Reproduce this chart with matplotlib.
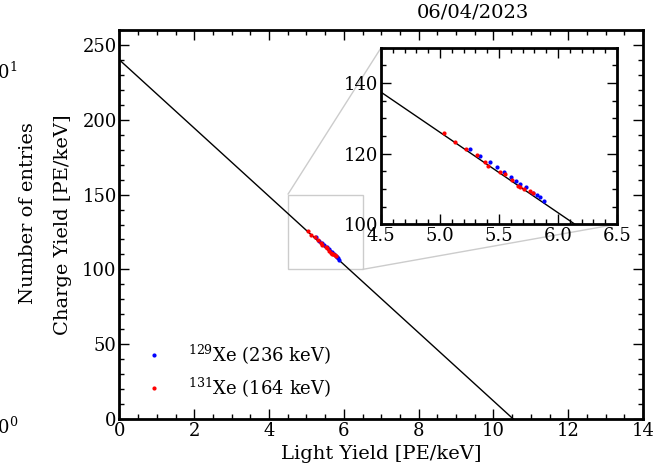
import numpy as np
import matplotlib
matplotlib.use('Agg')
import matplotlib.pyplot as plt
from matplotlib.ticker import MultipleLocator
from mpl_toolkits.axes_grid1.inset_locator import mark_inset

plt.rcParams['font.family'] = 'DejaVu Serif'
plt.rcParams['mathtext.fontset'] = 'dejavuserif'

# 129Xe (236 keV)
ly_129 = [5.25, 5.34, 5.42, 5.48, 5.54, 5.60, 5.64, 5.68, 5.73, 5.79, 5.82, 5.85, 5.88]
cy_129 = [121.4, 119.2, 117.6, 116.3, 114.9, 113.3, 112.2, 111.4, 110.5, 108.7, 108.2, 107.6, 106.5]
# 131Xe (164 keV)
ly_131 = [5.03, 5.13, 5.22, 5.31, 5.38, 5.41, 5.51, 5.55, 5.61, 5.66, 5.68, 5.71, 5.76, 5.79]
cy_131 = [125.9, 123.3, 121.4, 119.5, 117.7, 116.6, 114.8, 114.1, 112.5, 110.9, 110.6, 110.0, 109.3, 108.9]

# anticorrelation line: charge intercept / light intercept
cy0 = 240.0
ly0 = 10.53

fig = plt.figure(figsize=(6.55, 4.69), dpi=100)
ax = fig.add_axes([0.1824, 0.1066, 0.7993, 0.8294])

ax.plot([0, ly0], [cy0, 0], color='black', lw=1)
ax.plot(ly_129, cy_129, 'o', color='blue', ms=2, label=r'$^{129}$Xe (236 keV)')
ax.plot(ly_131, cy_131, 'o', color='red', ms=2, label=r'$^{131}$Xe (164 keV)')
ax.set_xlim(0, 14)
ax.set_ylim(0, 260)
ax.xaxis.set_major_locator(MultipleLocator(2))
ax.xaxis.set_minor_locator(MultipleLocator(0.5))
ax.yaxis.set_major_locator(MultipleLocator(50))
ax.yaxis.set_minor_locator(MultipleLocator(10))
ax.tick_params(which='both', direction='in', top=True, right=True, labelsize=13, pad=2)
ax.tick_params(which='major', length=7, width=1)
ax.tick_params(which='minor', length=3.5, width=1)
for s in ax.spines.values():
    s.set_linewidth(2)
ax.set_xlabel('Light Yield [PE/keV]', fontsize=14, labelpad=4)
ax.set_ylabel('Charge Yield [PE/keV]', fontsize=14, labelpad=7)
ax.set_title('06/04/2023', fontsize=14, x=0.675, pad=9)
ax.legend(loc='lower left', frameon=False, fontsize=13, markerscale=1, handletextpad=0.9,
          bbox_to_anchor=(0.0, 0.008))

# leftover labels from an earlier plot
fig.text(28 / 655, 1 - 213 / 469, 'Number of entries', rotation=90, fontsize=14,
         ha='center', va='center')
fig.text(-0.022, 1 - 72 / 469, r'$10^1$', fontsize=13, va='center')
fig.text(-0.022, 1 - 427 / 469, r'$10^0$', fontsize=13, va='center')

axins = fig.add_axes([0.5817, 0.522, 0.3603, 0.376])
axins.plot([0, ly0], [cy0, 0], color='black', lw=1)
axins.plot(ly_129, cy_129, 'o', color='blue', ms=2)
axins.plot(ly_131, cy_131, 'o', color='red', ms=2)
axins.set_xlim(4.5, 6.5)
axins.set_ylim(100, 150)
axins.xaxis.set_major_locator(MultipleLocator(0.5))
axins.xaxis.set_minor_locator(MultipleLocator(0.1))
axins.yaxis.set_major_locator(MultipleLocator(20))
axins.yaxis.set_minor_locator(MultipleLocator(5))
axins.tick_params(which='both', direction='in', top=True, right=True, labelsize=13, pad=2)
axins.tick_params(which='major', length=7, width=1)
axins.tick_params(which='minor', length=3.5, width=1)
for s in axins.spines.values():
    s.set_linewidth(2)

mark_inset(ax, axins, loc1=2, loc2=4, fc='none', ec='0.8', lw=1)

plt.savefig('out.png')
